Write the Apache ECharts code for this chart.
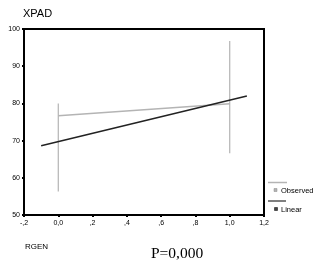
<!DOCTYPE html>
<html><head><meta charset="utf-8">
<script src="https://cdn.jsdelivr.net/npm/echarts@6/dist/echarts.min.js"></script>
<style>html,body{margin:0;padding:0;background:#fff}#c{width:320px;height:268px}</style>
</head><body><div id="c"></div>
<script>
// Data
var xTickLabels = {'-0.2':'-,2','0':'0,0','0.2':',2','0.4':',4','0.6':',6','0.8':',8','1':'1,0','1.2':'1,2'};
var groupX = [0, 1];
var observedLow = [56.3, 66.6];
var observedHigh = [80.0, 96.8];
var observedMean = [76.7, 79.9];
var linearX = [-0.1, 1.1];
var linearY = [68.6, 82.0];

var chart = echarts.init(document.getElementById('c'), null, {renderer:'canvas'});
var rangeData = groupX.map(function(x,i){return [x, observedLow[i], observedHigh[i]];});
var meanData = groupX.map(function(x,i){return [x, observedMean[i]];});
var linData = linearX.map(function(x,i){return [x, linearY[i]];});
var font = 'Liberation Sans, Arial, sans-serif';
chart.setOption({
  animation:false,
  grid:{left:24,top:29,width:240,height:186,show:true,borderColor:'#000',borderWidth:2,backgroundColor:'transparent'},
  xAxis:{type:'value',min:-0.2,max:1.2,interval:0.2,
    axisLine:{show:true,onZero:false,lineStyle:{color:'#000',width:2}},
    axisTick:{show:true,length:2,lineStyle:{color:'#000',width:2}},
    splitLine:{show:false},
    axisLabel:{color:'#000',fontSize:7,fontFamily:font,margin:5,
      formatter:function(v){var k=String(Math.round(v*10)/10);return xTickLabels[k]||'';}}},
  yAxis:{type:'value',min:50,max:100,interval:10,
    axisLine:{show:true,onZero:false,lineStyle:{color:'#000',width:2}},
    axisTick:{show:true,length:2,lineStyle:{color:'#000',width:2}},
    splitLine:{show:false},
    axisLabel:{color:'#000',fontSize:7,fontFamily:font,margin:4}},
  series:[
    {type:'custom',name:'Observed range',data:rangeData,
      renderItem:function(params,api){
        var p1=api.coord([api.value(0),api.value(1)]);
        var p2=api.coord([api.value(0),api.value(2)]);
        return {type:'line',shape:{x1:p1[0],y1:p1[1],x2:p2[0],y2:p2[1]},style:{stroke:'#b4b4b4',lineWidth:1.2}};
      }},
    {type:'line',name:'Observed',data:meanData,symbol:'none',lineStyle:{color:'#b4b4b4',width:1.5}},
    {type:'line',name:'Linear',data:linData,symbol:'none',lineStyle:{color:'#222',width:1.5}}
  ],
  graphic:[
    {type:'text',left:23,top:8,style:{text:'XPAD',font:'11px '+font,fill:'#000'}},
    {type:'text',left:25,top:243,style:{text:'RGEN',font:'8px '+font,fill:'#000'}},
    {type:'text',left:151,top:246,style:{text:'P=0,000',font:'15.5px Liberation Serif, Times New Roman, serif',fill:'#000'}},
    {type:'line',shape:{x1:268,y1:182.5,x2:287,y2:182.5},style:{stroke:'#b4b4b4',lineWidth:1.5}},
    {type:'rect',shape:{x:274,y:188.5,width:3,height:3},style:{fill:'#b4b4b4',stroke:'#888',lineWidth:0.5}},
    {type:'text',left:281,top:186.5,style:{text:'Observed',font:'7.5px '+font,fill:'#000'}},
    {type:'line',shape:{x1:268,y1:201,x2:286,y2:201},style:{stroke:'#000',lineWidth:1}},
    {type:'rect',shape:{x:274.5,y:207.5,width:3,height:3},style:{fill:'#444',stroke:'#000',lineWidth:0.5}},
    {type:'text',left:281,top:205.5,style:{text:'Linear',font:'7.5px '+font,fill:'#000'}}
  ]
});
</script></body></html>
